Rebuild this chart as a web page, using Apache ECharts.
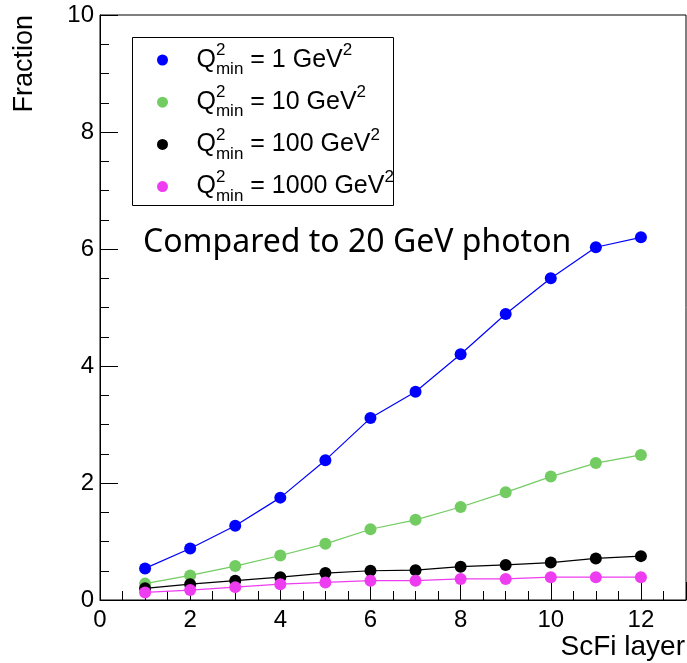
<!DOCTYPE html>
<html><head><meta charset="utf-8">
<script src="https://cdn.jsdelivr.net/npm/echarts@6/dist/echarts.min.js"></script>
<style>html,body{margin:0;padding:0;background:#fff}#c{width:687px;height:663px}</style>
</head><body><div id="c"></div>
<script>
const layers = [1,2,3,4,5,6,7,8,9,10,11,12];
const q2min = [1, 10, 100, 1000];
const frac_q1 = [0.54,0.88,1.27,1.75,2.39,3.11,3.56,4.20,4.89,5.50,6.03,6.20];
const frac_q10 = [0.28,0.42,0.58,0.76,0.96,1.21,1.37,1.59,1.84,2.11,2.34,2.48];
const frac_q100 = [0.20,0.27,0.33,0.39,0.46,0.50,0.51,0.57,0.60,0.64,0.71,0.75];
const frac_q1000 = [0.13,0.17,0.22,0.27,0.30,0.33,0.33,0.36,0.36,0.39,0.39,0.39];
const seriesValues = [frac_q1, frac_q10, frac_q100, frac_q1000];
const colors = ['#0000ff','#72cc62','#000000','#ee3cf0'];
const xTitle = 'ScFi layer';
const yTitle = 'Fraction';
const note = 'Compared to 20 GeV photon';

const FONT = 'Liberation Sans, Arial, Helvetica, sans-serif';
const names = q2min.map(q => 'Q2min = ' + q + ' GeV2');

const chart = echarts.init(document.getElementById('c'), null, {renderer: 'canvas'});
const axisBlack = {lineStyle: {color: '#000', width: 1}};

chart.setOption({
  animation: false,
  backgroundColor: '#fff',
  grid: {left: 100, top: 15, width: 586, height: 585, show: true, borderColor: '#000', borderWidth: 1,
    backgroundColor: 'transparent', containLabel: false, outerBoundsMode: 'none'},
  xAxis: [{
    type: 'value', min: 0, max: 13, interval: 0.5, position: 'bottom',
    axisLine: {show: true, ...axisBlack},
    axisTick: {show: true, inside: true, length: 9, ...axisBlack},
    axisLabel: {color: '#000', fontFamily: FONT, fontSize: 24, margin: 8,
      formatter: v => (Math.abs(v % 2) < 1e-9 ? String(v) : '')},
    splitLine: {show: false}
  }, {
    type: 'value', min: 0, max: 13, interval: 2, position: 'bottom', offset: 0,
    axisLine: {show: false},
    axisTick: {show: true, inside: true, length: 18, ...axisBlack},
    axisLabel: {show: false},
    splitLine: {show: false}
  }],
  yAxis: {
    type: 'value', min: 0, max: 10, interval: 2,
    axisLine: {show: true, ...axisBlack},
    axisTick: {show: true, inside: true, length: 18, ...axisBlack},
    minorTick: {show: true, splitNumber: 4, length: 9, ...axisBlack},
    axisLabel: {color: '#000', fontFamily: FONT, fontSize: 24, margin: 6},
    splitLine: {show: false},
    name: yTitle, nameLocation: 'end', nameGap: 0, nameRotate: 90,
    nameTextStyle: {color: '#000', fontFamily: FONT, fontSize: 27, align: 'right', verticalAlign: 'bottom', padding: [0, 0, 62, 0]}
  },
  legend: {
    left: 157, top: 42, orient: 'vertical', icon: 'circle',
    itemWidth: 58, itemHeight: 11, itemGap: 6.2,
    padding: 0, backgroundColor: 'transparent',
    data: names,
    formatter: name => {
      const q = name.split(' = ')[1].replace(' GeV2', '');
      return '{q|Q}{sup|2}{sub|min}{t| = ' + q + ' GeV}{sup|2}';
    },
    textStyle: {
      color: '#000', fontFamily: FONT, fontSize: 25,
      rich: {
        q: {fontFamily: FONT, fontSize: 25, lineHeight: 36, verticalAlign: 'middle', color: '#000'},
        t: {fontFamily: FONT, fontSize: 25, lineHeight: 36, verticalAlign: 'middle', color: '#000'},
        sup: {fontFamily: FONT, fontSize: 17, lineHeight: 17, verticalAlign: 'top', width: 0, color: '#000'},
        sub: {fontFamily: FONT, fontSize: 17, lineHeight: 17, verticalAlign: 'bottom', color: '#000'}
      }
    }
  },
  graphic: [
    {type: 'rect', left: 132, top: 37, shape: {width: 261, height: 168}, style: {fill: '#fff', stroke: '#000', lineWidth: 1}, z: 3},
    {type: 'text', left: 143, top: 227, style: {text: note, fontFamily: 'Noto Sans', fontSize: 32, fill: '#000'}, z: 5},
    {type: 'text', right: 2, top: 633, style: {text: xTitle, fontFamily: FONT, fontSize: 28, fill: '#000'}, z: 5}
  ],
  series: seriesValues.map((vals, i) => ({
    name: names[i], type: 'line', xAxisIndex: 0,
    data: layers.map((l, j) => [l, vals[j]]),
    symbol: 'circle', symbolSize: 12,
    itemStyle: {color: colors[i]},
    lineStyle: {color: colors[i], width: 1.2},
    z: 2 + i
  }))
});
</script></body></html>
